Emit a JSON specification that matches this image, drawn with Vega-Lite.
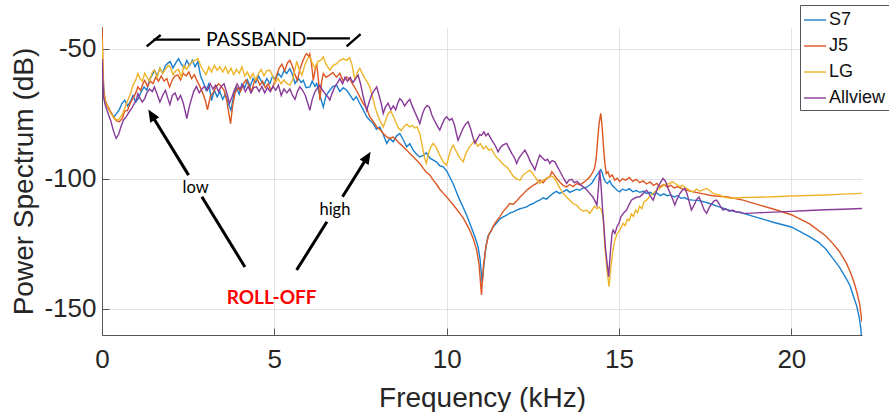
{
  "$schema": "https://vega.github.io/schema/vega-lite/v6.json",
  "width": 760,
  "height": 308,
  "autosize": {"type": "none"},
  "padding": {"left": 102, "top": 27, "right": 27, "bottom": 77},
  "background": "white",
  "config": {"view": {"stroke": null}, "font": "Liberation Sans"},
  "datasets": {
    "S7": [
      {"f":0,"p":-50},{"f":0.03,"p":-62},{"f":0.07,"p":-69},{"f":0.12,"p":-71.5},{"f":0.2,"p":-73.5},{"f":0.28,"p":-75},{"f":0.35,"p":-76.2},{"f":0.42,"p":-75},{"f":0.5,"p":-73.5},{"f":0.58,"p":-71},{"f":0.66,"p":-69.8},{"f":0.74,"p":-72},{"f":0.82,"p":-70.5},{"f":0.9,"p":-68},{"f":0.98,"p":-70.5},{"f":1.06,"p":-69},{"f":1.14,"p":-66.5},{"f":1.22,"p":-64.7},{"f":1.3,"p":-66},{"f":1.38,"p":-62},{"f":1.46,"p":-60},{"f":1.52,"p":-58.3},{"f":1.6,"p":-60.5},{"f":1.68,"p":-57.5},{"f":1.76,"p":-59.5},{"f":1.84,"p":-56.5},{"f":1.92,"p":-55.5},{"f":1.98,"p":-55},{"f":2.06,"p":-57.5},{"f":2.14,"p":-55.5},{"f":2.22,"p":-53.9},{"f":2.3,"p":-56},{"f":2.38,"p":-57.3},{"f":2.46,"p":-54.5},{"f":2.54,"p":-56.5},{"f":2.62,"p":-54.5},{"f":2.7,"p":-57},{"f":2.78,"p":-55},{"f":2.86,"p":-60.5},{"f":2.94,"p":-63},{"f":3.02,"p":-66},{"f":3.1,"p":-63.5},{"f":3.18,"p":-70},{"f":3.26,"p":-66},{"f":3.34,"p":-68.5},{"f":3.42,"p":-66.5},{"f":3.5,"p":-69.5},{"f":3.58,"p":-67.5},{"f":3.66,"p":-71},{"f":3.74,"p":-73.7},{"f":3.82,"p":-68},{"f":3.9,"p":-65},{"f":3.98,"p":-67.5},{"f":4.06,"p":-63.5},{"f":4.14,"p":-65},{"f":4.22,"p":-62},{"f":4.3,"p":-64.5},{"f":4.38,"p":-61.5},{"f":4.46,"p":-63},{"f":4.54,"p":-60.5},{"f":4.62,"p":-62.5},{"f":4.7,"p":-64},{"f":4.78,"p":-61.5},{"f":4.87,"p":-63.4},{"f":4.95,"p":-60.5},{"f":5.03,"p":-62},{"f":5.11,"p":-59.5},{"f":5.2,"p":-61},{"f":5.28,"p":-58.5},{"f":5.36,"p":-59.5},{"f":5.45,"p":-57.7},{"f":5.53,"p":-60},{"f":5.6,"p":-63.4},{"f":5.7,"p":-61.5},{"f":5.78,"p":-63},{"f":5.84,"p":-62.2},{"f":5.92,"p":-65},{"f":6.03,"p":-64.7},{"f":6.1,"p":-62.5},{"f":6.18,"p":-64.5},{"f":6.23,"p":-63.4},{"f":6.3,"p":-67},{"f":6.42,"p":-72.4},{"f":6.5,"p":-68},{"f":6.61,"p":-66},{"f":6.7,"p":-64.5},{"f":6.81,"p":-64.1},{"f":6.9,"p":-66.5},{"f":7.0,"p":-65},{"f":7.1,"p":-66},{"f":7.2,"p":-68},{"f":7.29,"p":-69.8},{"f":7.38,"p":-68.5},{"f":7.48,"p":-71.1},{"f":7.58,"p":-73.5},{"f":7.68,"p":-76.2},{"f":7.77,"p":-77.5},{"f":7.87,"p":-78.8},{"f":7.96,"p":-81},{"f":8.06,"p":-80.1},{"f":8.16,"p":-83},{"f":8.26,"p":-86.4},{"f":8.35,"p":-84.5},{"f":8.45,"p":-85.8},{"f":8.55,"p":-83.5},{"f":8.64,"p":-82.6},{"f":8.74,"p":-85},{"f":8.84,"p":-87.7},{"f":8.93,"p":-86.5},{"f":9.03,"p":-89},{"f":9.12,"p":-90.5},{"f":9.22,"p":-91.6},{"f":9.32,"p":-91},{"f":9.41,"p":-90},{"f":9.51,"p":-92},{"f":9.61,"p":-92.8},{"f":9.7,"p":-93.5},{"f":9.8,"p":-95},{"f":9.9,"p":-95.4},{"f":10.0,"p":-97},{"f":10.09,"p":-99.3},{"f":10.19,"p":-102},{"f":10.28,"p":-105},{"f":10.38,"p":-108.2},{"f":10.48,"p":-111},{"f":10.58,"p":-114},{"f":10.67,"p":-117.1},{"f":10.77,"p":-120.5},{"f":10.85,"p":-123.5},{"f":10.91,"p":-126.1},{"f":10.97,"p":-131},{"f":11.03,"p":-140.1},{"f":11.08,"p":-133},{"f":11.14,"p":-126},{"f":11.2,"p":-122},{"f":11.27,"p":-120.5},{"f":11.35,"p":-118.4},{"f":11.45,"p":-117},{"f":11.54,"p":-115.5},{"f":11.64,"p":-114.6},{"f":11.74,"p":-114},{"f":11.83,"p":-113.2},{"f":11.93,"p":-112.7},{"f":12.03,"p":-112},{"f":12.13,"p":-111.5},{"f":12.22,"p":-111.2},{"f":12.32,"p":-110.8},{"f":12.41,"p":-110},{"f":12.51,"p":-109.5},{"f":12.6,"p":-108.8},{"f":12.7,"p":-108.2},{"f":12.8,"p":-107.3},{"f":12.9,"p":-107.8},{"f":13.0,"p":-106.5},{"f":13.09,"p":-105.6},{"f":13.18,"p":-104.8},{"f":13.28,"p":-105.6},{"f":13.38,"p":-105},{"f":13.48,"p":-104.2},{"f":13.57,"p":-105.2},{"f":13.67,"p":-104.6},{"f":13.77,"p":-104},{"f":13.86,"p":-104.4},{"f":13.96,"p":-103.5},{"f":14.06,"p":-103.2},{"f":14.15,"p":-102.4},{"f":14.22,"p":-101.5},{"f":14.29,"p":-99.9},{"f":14.36,"p":-98.5},{"f":14.42,"p":-97.5},{"f":14.47,"p":-96.5},{"f":14.51,"p":-97.5},{"f":14.55,"p":-99.5},{"f":14.6,"p":-101},{"f":14.66,"p":-101.8},{"f":14.73,"p":-100.8},{"f":14.8,"p":-102.5},{"f":14.88,"p":-103.5},{"f":14.95,"p":-104.5},{"f":15.02,"p":-105},{"f":15.1,"p":-104},{"f":15.2,"p":-104.5},{"f":15.3,"p":-103.8},{"f":15.4,"p":-105},{"f":15.5,"p":-104.5},{"f":15.6,"p":-105.2},{"f":15.7,"p":-104.8},{"f":15.8,"p":-105.6},{"f":15.9,"p":-105.2},{"f":16.0,"p":-106},{"f":16.1,"p":-105.5},{"f":16.2,"p":-106.5},{"f":16.3,"p":-105.8},{"f":16.4,"p":-106.5},{"f":16.5,"p":-106.2},{"f":16.6,"p":-107},{"f":16.7,"p":-106.5},{"f":16.8,"p":-107.5},{"f":16.9,"p":-107.2},{"f":17.0,"p":-108},{"f":17.15,"p":-108.2},{"f":17.3,"p":-108.3},{"f":17.45,"p":-108.8},{"f":17.63,"p":-109.5},{"f":17.8,"p":-110.3},{"f":18.0,"p":-111.2},{"f":18.12,"p":-111.8},{"f":18.3,"p":-112.4},{"f":18.6,"p":-113.3},{"f":19.0,"p":-114.8},{"f":19.5,"p":-116.8},{"f":20.0,"p":-118.5},{"f":20.5,"p":-122},{"f":20.8,"p":-124.5},{"f":21.0,"p":-127},{"f":21.2,"p":-130.5},{"f":21.4,"p":-134},{"f":21.6,"p":-138.5},{"f":21.7,"p":-141},{"f":21.8,"p":-145},{"f":21.9,"p":-149},{"f":21.98,"p":-154},{"f":22.02,"p":-158},{"f":22.05,"p":-164}
    ],
    "J5": [
      {"f":0,"p":-41.7},{"f":0.02,"p":-52},{"f":0.05,"p":-66},{"f":0.1,"p":-70},{"f":0.18,"p":-72.5},{"f":0.26,"p":-74.5},{"f":0.34,"p":-76.5},{"f":0.42,"p":-77.8},{"f":0.5,"p":-78.1},{"f":0.58,"p":-77},{"f":0.66,"p":-74},{"f":0.74,"p":-73.7},{"f":0.82,"p":-71},{"f":0.9,"p":-69},{"f":0.98,"p":-67},{"f":1.04,"p":-64.7},{"f":1.12,"p":-66},{"f":1.2,"p":-63},{"f":1.24,"p":-62.2},{"f":1.32,"p":-64.5},{"f":1.4,"p":-62.5},{"f":1.48,"p":-63.4},{"f":1.56,"p":-61},{"f":1.64,"p":-62.5},{"f":1.72,"p":-60.5},{"f":1.8,"p":-62.5},{"f":1.88,"p":-61.5},{"f":1.96,"p":-64.7},{"f":2.04,"p":-62},{"f":2.12,"p":-60.5},{"f":2.2,"p":-60.2},{"f":2.28,"p":-62},{"f":2.36,"p":-59.5},{"f":2.44,"p":-60.5},{"f":2.52,"p":-59},{"f":2.6,"p":-61.5},{"f":2.68,"p":-60},{"f":2.76,"p":-62.5},{"f":2.84,"p":-64.5},{"f":2.92,"p":-67},{"f":3.0,"p":-70},{"f":3.06,"p":-73.5},{"f":3.14,"p":-68.5},{"f":3.22,"p":-67},{"f":3.3,"p":-65},{"f":3.38,"p":-63.5},{"f":3.46,"p":-64.5},{"f":3.54,"p":-66},{"f":3.62,"p":-70},{"f":3.68,"p":-75},{"f":3.73,"p":-78.8},{"f":3.79,"p":-72},{"f":3.86,"p":-67},{"f":3.94,"p":-65},{"f":4.02,"p":-66.5},{"f":4.1,"p":-63.5},{"f":4.18,"p":-62},{"f":4.26,"p":-64},{"f":4.34,"p":-66.5},{"f":4.42,"p":-62.5},{"f":4.5,"p":-61.5},{"f":4.58,"p":-64},{"f":4.66,"p":-62.5},{"f":4.74,"p":-65},{"f":4.82,"p":-63.5},{"f":4.9,"p":-66},{"f":4.98,"p":-64},{"f":5.06,"p":-60.5},{"f":5.14,"p":-57.5},{"f":5.22,"p":-56},{"f":5.3,"p":-58.5},{"f":5.38,"p":-55.5},{"f":5.45,"p":-54.5},{"f":5.53,"p":-57},{"f":5.6,"p":-60},{"f":5.67,"p":-62.2},{"f":5.74,"p":-58},{"f":5.82,"p":-55},{"f":5.9,"p":-52.5},{"f":5.94,"p":-51.9},{"f":6.0,"p":-53},{"f":6.03,"p":-52},{"f":6.08,"p":-56},{"f":6.13,"p":-62.2},{"f":6.2,"p":-57},{"f":6.23,"p":-55.8},{"f":6.28,"p":-62},{"f":6.32,"p":-69.8},{"f":6.37,"p":-63},{"f":6.42,"p":-59.6},{"f":6.5,"p":-61},{"f":6.6,"p":-60.2},{"f":6.7,"p":-59.2},{"f":6.8,"p":-61},{"f":6.9,"p":-59.5},{"f":7.0,"p":-62.5},{"f":7.1,"p":-60.9},{"f":7.2,"p":-62},{"f":7.29,"p":-64},{"f":7.38,"p":-66},{"f":7.48,"p":-68.6},{"f":7.58,"p":-71},{"f":7.68,"p":-73},{"f":7.77,"p":-76.2},{"f":7.87,"p":-78},{"f":7.97,"p":-80.1},{"f":8.06,"p":-81},{"f":8.16,"p":-82.6},{"f":8.26,"p":-83.9},{"f":8.35,"p":-84.5},{"f":8.45,"p":-84},{"f":8.55,"p":-85.2},{"f":8.64,"p":-86.5},{"f":8.74,"p":-87.7},{"f":8.84,"p":-89},{"f":8.93,"p":-90.3},{"f":9.03,"p":-91.5},{"f":9.12,"p":-92.8},{"f":9.22,"p":-94.1},{"f":9.32,"p":-96},{"f":9.41,"p":-97.5},{"f":9.51,"p":-98.5},{"f":9.61,"p":-100.5},{"f":9.7,"p":-102},{"f":9.8,"p":-104},{"f":9.9,"p":-105.5},{"f":10.0,"p":-106.9},{"f":10.09,"p":-108.5},{"f":10.19,"p":-110},{"f":10.28,"p":-111.5},{"f":10.38,"p":-113.3},{"f":10.48,"p":-115},{"f":10.58,"p":-117.5},{"f":10.67,"p":-119.7},{"f":10.77,"p":-123},{"f":10.87,"p":-127.4},{"f":10.94,"p":-133},{"f":11.01,"p":-144.6},{"f":11.07,"p":-133},{"f":11.14,"p":-126},{"f":11.22,"p":-121.5},{"f":11.3,"p":-119.7},{"f":11.38,"p":-117.5},{"f":11.46,"p":-116},{"f":11.54,"p":-114.6},{"f":11.64,"p":-112.5},{"f":11.74,"p":-111},{"f":11.83,"p":-109.5},{"f":11.93,"p":-109.8},{"f":12.03,"p":-108.5},{"f":12.13,"p":-107},{"f":12.22,"p":-105.8},{"f":12.32,"p":-104.4},{"f":12.41,"p":-103.5},{"f":12.51,"p":-102.5},{"f":12.61,"p":-101.8},{"f":12.7,"p":-100.5},{"f":12.8,"p":-101.5},{"f":12.9,"p":-99.8},{"f":12.99,"p":-99.3},{"f":13.05,"p":-97.3},{"f":13.12,"p":-98.5},{"f":13.2,"p":-100},{"f":13.3,"p":-101.5},{"f":13.38,"p":-102.5},{"f":13.48,"p":-103.1},{"f":13.57,"p":-102.2},{"f":13.67,"p":-103},{"f":13.77,"p":-101.8},{"f":13.86,"p":-102.4},{"f":13.96,"p":-101.5},{"f":14.06,"p":-100.5},{"f":14.15,"p":-99.3},{"f":14.24,"p":-97.5},{"f":14.29,"p":-96},{"f":14.34,"p":-92},{"f":14.38,"p":-85.2},{"f":14.42,"p":-79},{"f":14.47,"p":-74.9},{"f":14.51,"p":-80},{"f":14.55,"p":-87.7},{"f":14.59,"p":-94},{"f":14.63,"p":-98},{"f":14.68,"p":-97.3},{"f":14.73,"p":-99.3},{"f":14.8,"p":-98.5},{"f":14.88,"p":-100.5},{"f":14.95,"p":-99.8},{"f":15.02,"p":-101},{"f":15.1,"p":-100},{"f":15.2,"p":-100.5},{"f":15.3,"p":-99.5},{"f":15.4,"p":-101},{"f":15.5,"p":-100.2},{"f":15.6,"p":-101.5},{"f":15.7,"p":-100.8},{"f":15.8,"p":-102},{"f":15.9,"p":-101.2},{"f":16.0,"p":-102.5},{"f":16.1,"p":-101.8},{"f":16.18,"p":-103.1},{"f":16.3,"p":-102.2},{"f":16.4,"p":-103.2},{"f":16.5,"p":-102.5},{"f":16.6,"p":-103.5},{"f":16.7,"p":-103},{"f":16.85,"p":-104},{"f":17.0,"p":-104.5},{"f":17.15,"p":-105},{"f":17.3,"p":-105.4},{"f":17.45,"p":-105.8},{"f":17.63,"p":-106.3},{"f":17.8,"p":-106.6},{"f":18.0,"p":-106.8},{"f":18.12,"p":-106.9},{"f":18.3,"p":-107.4},{"f":18.6,"p":-108.2},{"f":19.08,"p":-110.1},{"f":19.57,"p":-112},{"f":20.0,"p":-113.8},{"f":20.53,"p":-117.3},{"f":21.0,"p":-122},{"f":21.2,"p":-124.8},{"f":21.4,"p":-128},{"f":21.6,"p":-132.5},{"f":21.7,"p":-135.5},{"f":21.8,"p":-139},{"f":21.9,"p":-143.5},{"f":21.98,"p":-148},{"f":22.02,"p":-152},{"f":22.05,"p":-155}
    ],
    "LG": [
      {"f":0,"p":-46},{"f":0.02,"p":-55},{"f":0.05,"p":-67},{"f":0.1,"p":-70.5},{"f":0.18,"p":-73},{"f":0.26,"p":-75},{"f":0.34,"p":-76.2},{"f":0.42,"p":-77.5},{"f":0.5,"p":-77},{"f":0.58,"p":-75.5},{"f":0.66,"p":-73},{"f":0.74,"p":-70},{"f":0.82,"p":-67.5},{"f":0.9,"p":-64},{"f":0.98,"p":-62},{"f":1.04,"p":-59.6},{"f":1.1,"p":-61.5},{"f":1.17,"p":-62.5},{"f":1.24,"p":-59.4},{"f":1.3,"p":-61},{"f":1.38,"p":-62.5},{"f":1.46,"p":-59},{"f":1.52,"p":-58.3},{"f":1.6,"p":-61},{"f":1.68,"p":-57.5},{"f":1.76,"p":-59.5},{"f":1.84,"p":-58},{"f":1.92,"p":-56.5},{"f":1.98,"p":-57},{"f":2.06,"p":-60},{"f":2.14,"p":-58.5},{"f":2.22,"p":-58},{"f":2.3,"p":-61},{"f":2.38,"p":-56.5},{"f":2.46,"p":-58},{"f":2.54,"p":-56},{"f":2.62,"p":-55},{"f":2.7,"p":-54.5},{"f":2.78,"p":-53.8},{"f":2.86,"p":-56.5},{"f":2.94,"p":-58.5},{"f":3.02,"p":-60},{"f":3.1,"p":-57},{"f":3.18,"p":-59},{"f":3.26,"p":-56.5},{"f":3.34,"p":-58.3},{"f":3.42,"p":-57},{"f":3.5,"p":-59},{"f":3.58,"p":-57},{"f":3.66,"p":-59.5},{"f":3.74,"p":-57.5},{"f":3.82,"p":-60},{"f":3.9,"p":-58},{"f":3.98,"p":-59.5},{"f":4.06,"p":-57},{"f":4.14,"p":-60.5},{"f":4.22,"p":-59},{"f":4.3,"p":-61.5},{"f":4.38,"p":-59.5},{"f":4.46,"p":-62},{"f":4.54,"p":-59.5},{"f":4.62,"p":-58},{"f":4.7,"p":-60.5},{"f":4.78,"p":-58.5},{"f":4.87,"p":-58.3},{"f":4.95,"p":-60.5},{"f":5.03,"p":-63},{"f":5.11,"p":-61.5},{"f":5.2,"p":-63.5},{"f":5.28,"p":-62},{"f":5.36,"p":-63.4},{"f":5.45,"p":-64},{"f":5.53,"p":-62},{"f":5.6,"p":-58},{"f":5.65,"p":-54.8},{"f":5.72,"p":-58},{"f":5.8,"p":-60.2},{"f":5.88,"p":-56.5},{"f":5.96,"p":-54},{"f":6.03,"p":-53.2},{"f":6.1,"p":-55.5},{"f":6.18,"p":-57.5},{"f":6.26,"p":-55},{"f":6.34,"p":-54.5},{"f":6.42,"p":-53.2},{"f":6.5,"p":-56},{"f":6.61,"p":-58.3},{"f":6.7,"p":-56.5},{"f":6.81,"p":-55.8},{"f":6.9,"p":-54.5},{"f":7.0,"p":-53.9},{"f":7.1,"p":-54.5},{"f":7.18,"p":-53.5},{"f":7.25,"p":-56},{"f":7.34,"p":-62.2},{"f":7.41,"p":-59},{"f":7.48,"p":-57.6},{"f":7.55,"p":-59.5},{"f":7.63,"p":-61.5},{"f":7.7,"p":-63},{"f":7.77,"p":-64.7},{"f":7.85,"p":-68.5},{"f":7.92,"p":-72.4},{"f":8.0,"p":-75.5},{"f":8.06,"p":-77.5},{"f":8.16,"p":-80.1},{"f":8.23,"p":-77.5},{"f":8.3,"p":-75},{"f":8.38,"p":-74},{"f":8.45,"p":-76},{"f":8.53,"p":-78.5},{"f":8.6,"p":-80.5},{"f":8.68,"p":-81.5},{"f":8.76,"p":-80},{"f":8.84,"p":-79},{"f":8.93,"p":-80.1},{"f":9.0,"p":-79.5},{"f":9.08,"p":-80.5},{"f":9.14,"p":-80.1},{"f":9.22,"p":-82.6},{"f":9.3,"p":-88},{"f":9.36,"p":-92},{"f":9.41,"p":-94.1},{"f":9.48,"p":-90},{"f":9.55,"p":-87.5},{"f":9.61,"p":-86.4},{"f":9.7,"p":-88},{"f":9.8,"p":-91},{"f":9.9,"p":-93.5},{"f":10.0,"p":-94.8},{"f":10.08,"p":-90.5},{"f":10.15,"p":-88},{"f":10.19,"p":-87.1},{"f":10.28,"p":-89.5},{"f":10.38,"p":-92},{"f":10.48,"p":-93.5},{"f":10.55,"p":-90.5},{"f":10.65,"p":-88},{"f":10.74,"p":-86.5},{"f":10.82,"p":-85.2},{"f":10.9,"p":-87.5},{"f":10.98,"p":-86.5},{"f":11.06,"p":-88.5},{"f":11.14,"p":-87.5},{"f":11.22,"p":-89},{"f":11.3,"p":-88.5},{"f":11.38,"p":-90.5},{"f":11.44,"p":-91.6},{"f":11.54,"p":-93},{"f":11.64,"p":-94.5},{"f":11.74,"p":-95.4},{"f":11.83,"p":-97},{"f":11.93,"p":-99},{"f":12.03,"p":-100},{"f":12.13,"p":-100.5},{"f":12.22,"p":-98.5},{"f":12.32,"p":-97.5},{"f":12.41,"p":-96.7},{"f":12.5,"p":-98},{"f":12.6,"p":-100},{"f":12.7,"p":-101.8},{"f":12.8,"p":-100.5},{"f":12.9,"p":-99.8},{"f":12.99,"p":-99},{"f":13.09,"p":-99.3},{"f":13.18,"p":-101},{"f":13.28,"p":-103.5},{"f":13.38,"p":-105.6},{"f":13.48,"p":-107},{"f":13.57,"p":-108.2},{"f":13.67,"p":-109.5},{"f":13.77,"p":-110.1},{"f":13.86,"p":-111.5},{"f":13.96,"p":-112.5},{"f":14.06,"p":-112},{"f":14.15,"p":-113.3},{"f":14.22,"p":-112},{"f":14.29,"p":-110.5},{"f":14.36,"p":-111.5},{"f":14.42,"p":-110.8},{"f":14.49,"p":-112},{"f":14.54,"p":-115},{"f":14.59,"p":-126.1},{"f":14.65,"p":-135},{"f":14.71,"p":-141.4},{"f":14.77,"p":-133},{"f":14.83,"p":-127},{"f":14.88,"p":-123.5},{"f":14.95,"p":-121},{"f":15.03,"p":-119.5},{"f":15.12,"p":-117.1},{"f":15.18,"p":-118},{"f":15.24,"p":-115.5},{"f":15.3,"p":-116},{"f":15.36,"p":-113.5},{"f":15.42,"p":-114.5},{"f":15.48,"p":-112},{"f":15.54,"p":-113},{"f":15.6,"p":-110.5},{"f":15.66,"p":-111.5},{"f":15.72,"p":-109},{"f":15.8,"p":-108.2},{"f":15.88,"p":-107},{"f":15.95,"p":-106},{"f":16.02,"p":-105.2},{"f":16.09,"p":-104.4},{"f":16.2,"p":-103.5},{"f":16.3,"p":-102.5},{"f":16.4,"p":-102},{"f":16.47,"p":-101.8},{"f":16.55,"p":-101.2},{"f":16.65,"p":-102},{"f":16.75,"p":-103},{"f":16.85,"p":-102.5},{"f":16.96,"p":-103.7},{"f":17.05,"p":-104.5},{"f":17.15,"p":-105},{"f":17.25,"p":-104},{"f":17.35,"p":-104.8},{"f":17.45,"p":-104.2},{"f":17.54,"p":-103.7},{"f":17.63,"p":-104.5},{"f":17.72,"p":-105.5},{"f":17.83,"p":-106},{"f":17.93,"p":-106.3},{"f":18.02,"p":-106.9},{"f":18.15,"p":-107.3},{"f":18.31,"p":-107.5},{"f":18.6,"p":-107.2},{"f":19.0,"p":-107.1},{"f":19.5,"p":-106.9},{"f":20.0,"p":-106.6},{"f":20.5,"p":-106.4},{"f":21.0,"p":-106.2},{"f":21.5,"p":-105.9},{"f":22.05,"p":-105.6}
    ],
    "Allview": [
      {"f":0,"p":-54},{"f":0.02,"p":-60},{"f":0.05,"p":-69},{"f":0.1,"p":-72},{"f":0.18,"p":-75},{"f":0.26,"p":-78},{"f":0.33,"p":-81.5},{"f":0.41,"p":-84.5},{"f":0.48,"p":-83},{"f":0.55,"p":-80},{"f":0.62,"p":-77.5},{"f":0.7,"p":-76.2},{"f":0.78,"p":-74.5},{"f":0.86,"p":-73},{"f":0.94,"p":-71},{"f":1.0,"p":-69.5},{"f":1.04,"p":-67.3},{"f":1.1,"p":-69},{"f":1.17,"p":-70.5},{"f":1.24,"p":-69.2},{"f":1.3,"p":-67},{"f":1.38,"p":-65.5},{"f":1.46,"p":-66.5},{"f":1.52,"p":-64.7},{"f":1.6,"p":-67.5},{"f":1.68,"p":-70.5},{"f":1.76,"p":-68},{"f":1.84,"p":-66},{"f":1.92,"p":-69.5},{"f":1.97,"p":-71.5},{"f":2.04,"p":-68},{"f":2.12,"p":-67},{"f":2.2,"p":-69.8},{"f":2.28,"p":-68},{"f":2.36,"p":-71},{"f":2.42,"p":-74.5},{"f":2.46,"p":-76.9},{"f":2.52,"p":-73},{"f":2.58,"p":-70},{"f":2.66,"p":-66.5},{"f":2.74,"p":-64.5},{"f":2.82,"p":-67},{"f":2.9,"p":-65.5},{"f":2.98,"p":-64.5},{"f":3.06,"p":-66},{"f":3.14,"p":-63.5},{"f":3.22,"p":-65.5},{"f":3.3,"p":-64},{"f":3.38,"p":-66.5},{"f":3.46,"p":-64.5},{"f":3.54,"p":-63.5},{"f":3.62,"p":-67},{"f":3.7,"p":-71},{"f":3.76,"p":-69},{"f":3.84,"p":-66},{"f":3.92,"p":-63.5},{"f":4.0,"p":-65.5},{"f":4.08,"p":-64},{"f":4.16,"p":-66.5},{"f":4.24,"p":-64.5},{"f":4.32,"p":-67},{"f":4.4,"p":-65},{"f":4.48,"p":-64.7},{"f":4.56,"p":-66.5},{"f":4.64,"p":-64.5},{"f":4.72,"p":-67},{"f":4.8,"p":-65},{"f":4.88,"p":-66.5},{"f":4.96,"p":-64.5},{"f":5.04,"p":-66},{"f":5.12,"p":-64},{"f":5.2,"p":-68},{"f":5.28,"p":-65.5},{"f":5.36,"p":-67},{"f":5.45,"p":-65.5},{"f":5.53,"p":-68},{"f":5.6,"p":-69.5},{"f":5.67,"p":-66.5},{"f":5.74,"p":-64.7},{"f":5.82,"p":-66},{"f":5.9,"p":-68},{"f":5.97,"p":-71},{"f":6.03,"p":-73.7},{"f":6.1,"p":-69.5},{"f":6.18,"p":-66.5},{"f":6.26,"p":-65},{"f":6.32,"p":-64.1},{"f":6.4,"p":-66},{"f":6.48,"p":-67.5},{"f":6.55,"p":-68.5},{"f":6.61,"p":-69.8},{"f":6.68,"p":-67},{"f":6.76,"p":-64.5},{"f":6.84,"p":-63},{"f":6.9,"p":-61.5},{"f":6.98,"p":-63.5},{"f":7.05,"p":-61},{"f":7.12,"p":-62.5},{"f":7.2,"p":-61},{"f":7.28,"p":-63},{"f":7.36,"p":-61.5},{"f":7.43,"p":-60.2},{"f":7.5,"p":-63.5},{"f":7.58,"p":-68.5},{"f":7.68,"p":-73.7},{"f":7.75,"p":-70.5},{"f":7.83,"p":-67.5},{"f":7.9,"p":-66},{"f":7.97,"p":-64.7},{"f":8.04,"p":-68},{"f":8.1,"p":-71},{"f":8.16,"p":-74.9},{"f":8.22,"p":-72.5},{"f":8.3,"p":-71},{"f":8.38,"p":-73.5},{"f":8.45,"p":-72},{"f":8.52,"p":-73.5},{"f":8.58,"p":-71},{"f":8.64,"p":-69.2},{"f":8.7,"p":-70},{"f":8.78,"p":-72},{"f":8.86,"p":-70.5},{"f":8.93,"p":-69.5},{"f":9.0,"p":-72},{"f":9.08,"p":-74.5},{"f":9.15,"p":-76.5},{"f":9.22,"p":-78.8},{"f":9.3,"p":-75},{"f":9.36,"p":-73},{"f":9.43,"p":-71.8},{"f":9.5,"p":-72.5},{"f":9.57,"p":-75.5},{"f":9.64,"p":-77.5},{"f":9.72,"p":-79.5},{"f":9.8,"p":-81.3},{"f":9.87,"p":-79},{"f":9.94,"p":-77},{"f":10.0,"p":-76.2},{"f":10.08,"p":-77.5},{"f":10.15,"p":-76.8},{"f":10.22,"p":-79},{"f":10.28,"p":-82.5},{"f":10.33,"p":-85.2},{"f":10.4,"p":-83},{"f":10.48,"p":-80.5},{"f":10.55,"p":-79},{"f":10.62,"p":-78.1},{"f":10.7,"p":-81},{"f":10.76,"p":-84},{"f":10.82,"p":-86.4},{"f":10.9,"p":-84.5},{"f":10.96,"p":-83},{"f":11.01,"p":-83.3},{"f":11.08,"p":-82},{"f":11.14,"p":-83.5},{"f":11.2,"p":-82.6},{"f":11.28,"p":-84.5},{"f":11.35,"p":-86},{"f":11.42,"p":-87.5},{"f":11.49,"p":-89.7},{"f":11.56,"p":-88},{"f":11.64,"p":-87},{"f":11.74,"p":-86.4},{"f":11.82,"p":-88.5},{"f":11.9,"p":-90.5},{"f":11.97,"p":-92},{"f":12.03,"p":-94.1},{"f":12.1,"p":-92},{"f":12.18,"p":-90.5},{"f":12.27,"p":-89},{"f":12.35,"p":-91},{"f":12.43,"p":-93.5},{"f":12.5,"p":-95},{"f":12.56,"p":-96.6},{"f":12.63,"p":-93.5},{"f":12.7,"p":-90.9},{"f":12.78,"p":-92},{"f":12.86,"p":-93},{"f":12.93,"p":-92.5},{"f":12.99,"p":-94.1},{"f":13.06,"p":-93},{"f":13.14,"p":-93.5},{"f":13.22,"p":-95.5},{"f":13.3,"p":-97.5},{"f":13.38,"p":-99.5},{"f":13.48,"p":-101.8},{"f":13.55,"p":-100.5},{"f":13.63,"p":-100.2},{"f":13.7,"p":-101.5},{"f":13.78,"p":-101},{"f":13.86,"p":-102},{"f":13.96,"p":-103.1},{"f":14.05,"p":-104},{"f":14.15,"p":-105.6},{"f":14.24,"p":-107},{"f":14.3,"p":-108.5},{"f":14.36,"p":-110.1},{"f":14.4,"p":-104},{"f":14.44,"p":-96.7},{"f":14.48,"p":-103},{"f":14.52,"p":-111},{"f":14.56,"p":-118},{"f":14.61,"p":-127},{"f":14.66,"p":-133},{"f":14.7,"p":-137.6},{"f":14.75,"p":-128},{"f":14.8,"p":-121},{"f":14.83,"p":-119.7},{"f":14.88,"p":-121},{"f":14.94,"p":-118.5},{"f":15.0,"p":-117},{"f":15.06,"p":-114.5},{"f":15.14,"p":-113},{"f":15.22,"p":-112},{"f":15.29,"p":-110},{"f":15.36,"p":-108.2},{"f":15.44,"p":-107.5},{"f":15.52,"p":-107},{"f":15.6,"p":-106.9},{"f":15.68,"p":-106},{"f":15.74,"p":-105},{"f":15.8,"p":-104.4},{"f":15.86,"p":-105.5},{"f":15.93,"p":-107},{"f":15.99,"p":-108.2},{"f":16.05,"p":-106},{"f":16.12,"p":-103.5},{"f":16.2,"p":-101.5},{"f":16.28,"p":-99.9},{"f":16.35,"p":-101},{"f":16.42,"p":-103.5},{"f":16.5,"p":-106},{"f":16.56,"p":-108},{"f":16.62,"p":-110.1},{"f":16.68,"p":-108},{"f":16.75,"p":-106},{"f":16.83,"p":-104.5},{"f":16.91,"p":-103.7},{"f":16.98,"p":-106},{"f":17.05,"p":-109.5},{"f":17.1,"p":-112},{"f":17.18,"p":-110},{"f":17.25,"p":-108},{"f":17.32,"p":-107},{"f":17.4,"p":-109.5},{"f":17.47,"p":-112},{"f":17.54,"p":-113.3},{"f":17.62,"p":-111},{"f":17.7,"p":-109.5},{"f":17.76,"p":-108.5},{"f":17.83,"p":-108.2},{"f":17.9,"p":-109.5},{"f":17.96,"p":-111},{"f":18.02,"p":-112},{"f":18.1,"p":-111.5},{"f":18.2,"p":-112.5},{"f":18.3,"p":-112},{"f":18.4,"p":-112.8},{"f":18.5,"p":-112.7},{"f":18.6,"p":-113.2},{"f":18.7,"p":-113.3},{"f":19.0,"p":-113.1},{"f":19.5,"p":-112.8},{"f":20.0,"p":-112.5},{"f":20.5,"p":-112.2},{"f":21.0,"p":-111.9},{"f":21.5,"p":-111.7},{"f":22.05,"p":-111.4}
    ]
  },
  "layer": [
    {
      "data": {"name": "S7"},
      "mark": {"type": "line", "strokeWidth": 1.4, "clip": true},
      "encoding": {
        "x": {
          "field": "f", "type": "quantitative",
          "scale": {"domain": [0, 22.05], "nice": false, "zero": false},
          "axis": {
            "values": [0, 5, 10, 15, 20],
            "title": "Frequency (kHz)",
            "grid": true, "gridColor": "#e2e2e2", "gridWidth": 1,
            "domainColor": "#555555", "domainWidth": 1,
            "tickColor": "#555555", "tickSize": -7, "tickWidth": 1,
            "labelFont": "Liberation Sans", "labelFontSize": 26, "labelColor": "#262626",
            "labelPadding": 18, "labelFlush": false, "labelOverlap": false,
            "titleFont": "Liberation Sans", "titleFontSize": 28, "titleFontWeight": "normal",
            "titleColor": "#262626", "titleBaseline": "alphabetic", "titleY": 71
          }
        },
        "y": {
          "field": "p", "type": "quantitative",
          "scale": {"domain": [-160, -41.7], "nice": false, "zero": false},
          "axis": {
            "values": [-150, -100, -50],
            "labelExpr": "toString(datum.value)",
            "title": "Power Spectrum (dB)",
            "grid": true, "gridColor": "#e2e2e2", "gridWidth": 1,
            "domainColor": "#555555", "domainWidth": 1,
            "tickColor": "#555555", "tickSize": -7, "tickWidth": 1,
            "labelFont": "Liberation Sans", "labelFontSize": 26, "labelColor": "#262626",
            "labelPadding": 13, "labelFlush": false, "labelOverlap": false,
            "titleFont": "Liberation Sans", "titleFontSize": 28, "titleFontWeight": "normal",
            "titleColor": "#262626", "titleAngle": -90, "titleBaseline": "alphabetic",
            "titleAlign": "center", "titleX": -70, "titleY": 154
          }
        },
        "color": {
          "datum": "S7", "type": "nominal",
          "scale": {"domain": ["S7", "J5", "LG", "Allview"], "range": ["#1A80CE", "#DC5722", "#EEB42A", "#873A97"]},
          "legend": {
            "orient": "none", "legendX": 698, "legendY": -22, "title": null,
            "symbolType": "stroke", "symbolSize": 484, "symbolStrokeWidth": 1.4,
            "labelFont": "Liberation Sans", "labelFontSize": 18, "labelColor": "#111111",
            "labelOffset": 2, "rowPadding": 5, "padding": 3,
            "strokeColor": "#555555", "fillColor": "white", "cornerRadius": 0
          }
        }
      }
    },
    {
      "data": {"name": "J5"},
      "mark": {"type": "line", "strokeWidth": 1.4, "clip": true},
      "encoding": {
        "x": {"field": "f", "type": "quantitative"},
        "y": {"field": "p", "type": "quantitative"},
        "color": {"datum": "J5", "type": "nominal"}
      }
    },
    {
      "data": {"name": "LG"},
      "mark": {"type": "line", "strokeWidth": 1.4, "clip": true},
      "encoding": {
        "x": {"field": "f", "type": "quantitative"},
        "y": {"field": "p", "type": "quantitative"},
        "color": {"datum": "LG", "type": "nominal"}
      }
    },
    {
      "data": {"name": "Allview"},
      "mark": {"type": "line", "strokeWidth": 1.4, "clip": true},
      "encoding": {
        "x": {"field": "f", "type": "quantitative"},
        "y": {"field": "p", "type": "quantitative"},
        "color": {"datum": "Allview", "type": "nominal"}
      }
    },
    {
      "data": {"values": [
        {"f": 1.488, "p": -46.55, "f2": 2.842, "p2": -46.55},
        {"f": 1.296, "p": -49.12, "f2": 1.702, "p2": -44.78},
        {"f": 5.937, "p": -46.05, "f2": 7.193, "p2": -46.05},
        {"f": 7.097, "p": -49.12, "f2": 7.503, "p2": -44.40}
      ]},
      "mark": {"type": "rule", "color": "black", "strokeWidth": 2.4},
      "encoding": {
        "x": {"field": "f", "type": "quantitative"},
        "y": {"field": "p", "type": "quantitative"},
        "x2": {"field": "f2"},
        "y2": {"field": "p2"}
      }
    },
    {
      "data": {"values": [
        {"f": 1.450, "p": -75.70, "f2": 2.512, "p2": -98.6},
        {"f": 2.897, "p": -106.92, "f2": 4.147, "p2": -133.89},
        {"f": 6.978, "p": -106.92, "f2": 7.686, "p2": -91.93},
        {"f": 5.647, "p": -135.04, "f2": 6.526, "p2": -116.51}
      ]},
      "mark": {"type": "rule", "color": "black", "strokeWidth": 3},
      "encoding": {
        "x": {"field": "f", "type": "quantitative"},
        "y": {"field": "p", "type": "quantitative"},
        "x2": {"field": "f2"},
        "y2": {"field": "p2"}
      }
    },
    {
      "data": {"values": [{"f": 1.450, "p": -75.70}]},
      "mark": {"type": "point", "shape": "M0,-1L0.75,0.75L-0.75,0.75Z", "size": 196, "filled": true, "color": "black", "opacity": 1, "angle": 328.5},
      "encoding": {
        "x": {"field": "f", "type": "quantitative"},
        "y": {"field": "p", "type": "quantitative"}
      }
    },
    {
      "data": {"values": [{"f": 7.686, "p": -91.93}]},
      "mark": {"type": "point", "shape": "M0,-1L0.75,0.75L-0.75,0.75Z", "size": 196, "filled": true, "color": "black", "opacity": 1, "angle": 32},
      "encoding": {
        "x": {"field": "f", "type": "quantitative"},
        "y": {"field": "p", "type": "quantitative"}
      }
    },
    {
      "data": {"values": [{"t": "PASSBAND", "f": 4.475, "p": -49.12}]},
      "mark": {"type": "text", "font": "Lato", "fontSize": 19.5, "color": "black", "align": "center", "baseline": "alphabetic"},
      "encoding": {
        "x": {"field": "f", "type": "quantitative"},
        "y": {"field": "p", "type": "quantitative"},
        "text": {"field": "t"}
      }
    },
    {
      "data": {"values": [
        {"t": "low", "f": 2.717, "p": -105.62},
        {"t": "high", "f": 6.758, "p": -113.94}
      ]},
      "mark": {"type": "text", "font": "Lato", "fontSize": 16.5, "color": "black", "align": "center", "baseline": "alphabetic"},
      "encoding": {
        "x": {"field": "f", "type": "quantitative"},
        "y": {"field": "p", "type": "quantitative"},
        "text": {"field": "t"}
      }
    },
    {
      "data": {"values": [{"t": "ROLL-OFF", "f": 4.922, "p": -148.08}]},
      "mark": {"type": "text", "font": "Lato", "fontSize": 19, "fontWeight": "bold", "color": "#FF0000", "align": "center", "baseline": "alphabetic"},
      "encoding": {
        "x": {"field": "f", "type": "quantitative"},
        "y": {"field": "p", "type": "quantitative"},
        "text": {"field": "t"}
      }
    }
  ]
}
